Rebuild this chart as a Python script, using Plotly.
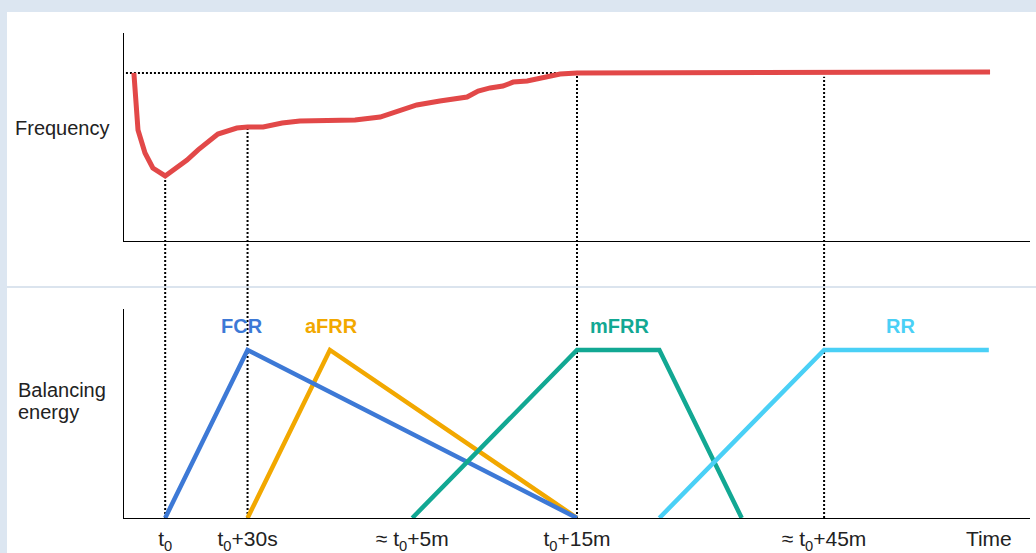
import plotly.graph_objects as go

# ---------------- data ----------------
# Frequency curve (time in abstract units, frequency in relative units 0-100)
freq_x = [0.24, 0.34, 0.51, 0.70, 1.0, 1.53, 1.80, 2.28, 2.74, 3.0, 3.38, 3.84, 4.27,
          5.61, 6.22, 6.70, 7.11, 7.67, 8.33, 8.60, 8.89, 9.20, 9.45, 9.79, 10.17,
          10.59, 11.0, 14.0, 21.03]
freq_y = [80.8, 53.4, 42.3, 35.1, 31.3, 38.9, 43.8, 51.4, 54.3, 54.8, 54.8, 56.7, 57.7,
          58.2, 59.6, 62.5, 65.4, 67.3, 69.2, 72.1, 73.6, 74.5, 76.4, 76.9, 78.8,
          80.3, 80.8, 80.8, 81.3]
nominal_freq = 80.8

# Balancing energy products
fcr_x, fcr_y = [1, 3, 11], [0, 1, 0]
afrr_x, afrr_y = [3, 5, 11], [0, 1, 0]
mfrr_x, mfrr_y = [7, 11, 13, 15], [0, 1, 1, 0]
rr_x, rr_y = [13, 17, 21], [0, 1, 1]

product_names = ["FCR", "aFRR", "mFRR", "RR"]
product_label_x = [2.87, 5.05, 12.02, 18.85]
product_label_y = 1.14

# Tick labels on time axis
tick_vals = [1, 3, 7, 11, 17, 21]
tick_text = ["t<sub>0</sub>", "t<sub>0</sub>+30s", "≈ t<sub>0</sub>+5m",
             "t<sub>0</sub>+15m", "≈ t<sub>0</sub>+45m", "Time"]

# Reference (dotted) lines: x position and frequency value where they start
vline_x = [1, 3, 11, 17]
vline_top = [31.3, 54.8, 80.8, 79.0]

# ---------------- styling ----------------
W, H = 1036, 553
X_RANGE = [0, 22]
TOP_RANGE = [0, 100]
BOT_RANGE = [0, 1.244]
x_dom = [124 / W, 1030 / W]
top_dom = [(H - 241) / H, (H - 33) / H]
bot_dom = [(H - 518) / H, (H - 309) / H]

C_RED = "#e24848"
colors = ["#3d79d6", "#f2a800", "#12a893", "#4ad0f6"]
FONT = "Liberation Sans, Arial, sans-serif"

fig = go.Figure()

fig.add_trace(go.Scatter(x=freq_x, y=freq_y, mode="lines",
                         line=dict(color=C_RED, width=5), xaxis="x", yaxis="y",
                         hoverinfo="skip"))

series = [(afrr_x, afrr_y, colors[1]), (fcr_x, fcr_y, colors[0]),
          (mfrr_x, mfrr_y, colors[2]), (rr_x, rr_y, colors[3])]
for xs, ys, c in series:
    fig.add_trace(go.Scatter(x=xs, y=ys, mode="lines", line=dict(color=c, width=4.5),
                             xaxis="x2", yaxis="y2", hoverinfo="skip"))


def top_to_paper(v):
    return top_dom[0] + (v - TOP_RANGE[0]) / (TOP_RANGE[1] - TOP_RANGE[0]) * (top_dom[1] - top_dom[0])


shapes = [
    # page background white panel
    dict(type="rect", xref="paper", yref="paper", x0=7 / W, x1=1.02, y0=-0.02, y1=(H - 12) / H,
         fillcolor="white", line=dict(width=0), layer="below"),
    # divider line
    dict(type="line", xref="paper", yref="paper", x0=7 / W, x1=1,
         y0=(H - 287) / H, y1=(H - 287) / H,
         line=dict(color="#dbe4ee", width=2), layer="below"),
    # nominal frequency dotted line
    dict(type="line", xref="x", yref="y", x0=-0.05, x1=11, y0=nominal_freq, y1=nominal_freq,
         line=dict(color="black", width=2, dash="2px,2px"), layer="below"),
]
for xv, top in zip(vline_x, vline_top):
    shapes.append(dict(type="line", xref="x2", yref="paper", x0=xv, x1=xv,
                       y0=bot_dom[0], y1=top_to_paper(top),
                       line=dict(color="black", width=2, dash="2px,2px"), layer="below"))

annotations = [
    dict(text="Frequency", xref="paper", yref="paper", x=13 / W, y=(H - 128) / H,
         xanchor="left", yanchor="middle", showarrow=False,
         font=dict(family=FONT, size=20, color="#222")),
    dict(text="Balancing", xref="paper", yref="paper", x=16 / W, y=(H - 390) / H,
         xanchor="left", yanchor="middle", showarrow=False,
         font=dict(family=FONT, size=20, color="#222")),
    dict(text="energy", xref="paper", yref="paper", x=16 / W, y=(H - 412) / H,
         xanchor="left", yanchor="middle", showarrow=False,
         font=dict(family=FONT, size=20, color="#222")),
]
for name, lx, c in zip(product_names, product_label_x, colors):
    annotations.append(dict(text=f"<b>{name}</b>", xref="x2", yref="y2", x=lx, y=product_label_y,
                            xanchor="center", yanchor="middle", showarrow=False,
                            font=dict(family=FONT, size=20, color=c)))

axis_common = dict(showgrid=False, zeroline=False, showline=True, linecolor="black",
                   linewidth=1.3, ticks="", fixedrange=True, automargin=False)

fig.update_layout(
    width=W, height=H,
    margin=dict(l=0, r=0, t=0, b=0, autoexpand=False),
    paper_bgcolor="#dce6f1",
    plot_bgcolor="rgba(0,0,0,0)",
    showlegend=False,
    xaxis=dict(domain=x_dom, range=X_RANGE, anchor="y", showticklabels=False, **axis_common),
    yaxis=dict(domain=top_dom, range=TOP_RANGE, anchor="x", showticklabels=False, **axis_common),
    xaxis2=dict(domain=x_dom, range=X_RANGE, anchor="y2", tickvals=tick_vals, ticktext=tick_text,
                ticklabelstandoff=2,
                tickfont=dict(family=FONT, size=21, color="#222"), **axis_common),
    yaxis2=dict(domain=bot_dom, range=BOT_RANGE, anchor="x2", showticklabels=False, **axis_common),
    shapes=shapes,
    annotations=annotations,
)

fig.write_html(
    "out.html",
    config={"displayModeBar": False},
    post_script="document.body.style.margin='0';document.body.style.overflow='hidden';",
)
